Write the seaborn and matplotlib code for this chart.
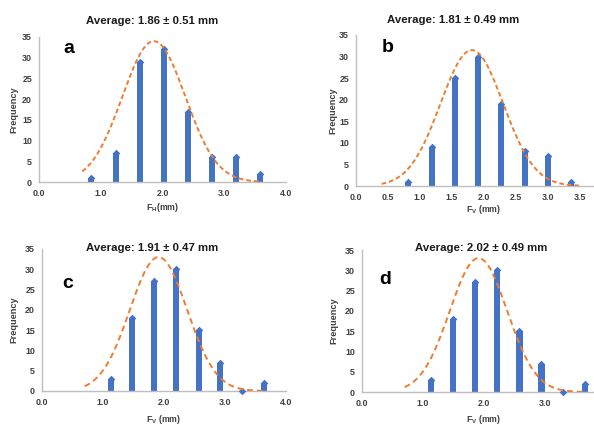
import numpy as np
import pandas as pd
import matplotlib
matplotlib.use("Agg")
import matplotlib.pyplot as plt
import seaborn as sns

sns.set_theme(style="white")
plt.rcParams['font.family'] = ['Liberation Sans', 'DejaVu Sans']
plt.rcParams['mathtext.fontset'] = 'custom'
plt.rcParams['mathtext.rm'] = 'Liberation Sans:bold'
plt.rcParams['mathtext.bf'] = 'Liberation Sans:bold'
plt.rcParams['mathtext.it'] = 'Liberation Sans:bold'

# ---------------- data ----------------
a_centers = [0.85, 1.24, 1.63, 2.02, 2.41, 2.80, 3.19, 3.58]
a_counts = [1, 7, 29, 32, 17, 6, 6, 2]
b_centers = [0.81, 1.18, 1.54, 1.90, 2.27, 2.64, 3.00, 3.36]
b_counts = [1, 9, 25, 30, 19, 8, 7, 1]
c_centers = [1.13, 1.48, 1.84, 2.20, 2.57, 2.92, 3.28, 3.64]
c_counts = [3, 18, 27, 30, 15, 7, 0, 2]
d_centers = [1.13, 1.49, 1.85, 2.21, 2.58, 2.94, 3.30, 3.66]
d_counts = [3, 18, 27, 30, 15, 7, 0, 2]

titles = ["Average: 1.86 ± 0.51 mm", "Average: 1.81 ± 0.49 mm",
          "Average: 1.91 ± 0.47 mm", "Average: 2.02 ± 0.49 mm"]
letters = ["a", "b", "c", "d"]
xlabels = [r"F$_{H}$(mm)", r"F$_{V}$ (mm)", r"F$_{V}$ (mm)", r"F$_{V}$ (mm)"]

# fitted normal curves (mean, sd, peak height, x-range) as drawn
curve_mean = [1.86, 1.81, 1.91, 1.91]
curve_sd = [0.51, 0.49, 0.47, 0.47]
curve_peak = [34.0, 31.5, 33.0, 33.0]
curve_start = [0.70, 0.40, 0.70, 0.70]
curve_end = [3.60, 3.50, 3.62, 3.62]

xtick_sets = [[0.0, 1.0, 2.0, 3.0, 4.0],
              [0.0, 0.5, 1.0, 1.5, 2.0, 2.5, 3.0, 3.5],
              [0.0, 1.0, 2.0, 3.0, 4.0],
              [0.0, 1.0, 2.0, 3.0]]
yticks = [0, 5, 10, 15, 20, 25, 30, 35]

# ---------------- layout ----------------
W, H = 594, 425
BLUE = "#4472C4"
ORANGE = "#ED7D31"
GRAY = "#BFBFBF"
TXT = "#404040"

fig = plt.figure(figsize=(W / 100, H / 100), dpi=100)
fig.patch.set_facecolor("white")

# (left, bottom, right, top) in pixels
boxes = [(39, 182, 286, 37), (356, 186, 612, 35), (42, 391, 286, 249), (362, 392, 606, 250)]
title_pos = [(0.457, 1.11), (0.379, 1.10), (0.45, 1.005), (0.49, 1.015)]
letter_pos = [(0.12, 0.92), (0.125, 0.92), (0.107, 0.76), (0.094, 0.79)]
bar_widths = [0.25, 0.26, 0.29, 0.29]
dash_styles = [(0, (2.4, 1.5)), (0, (2.4, 1.5)), (0, (3.0, 2.0)), (0, (3.0, 2.0))]
ylabel_x = [14, 333, 14, 334]
xlabel_y = [207, 210, 419, 420]

datasets = [(a_centers, a_counts), (b_centers, b_counts), (c_centers, c_counts), (d_centers, d_counts)]

for i in range(4):
    l, b, r, t = boxes[i]
    ax = fig.add_axes([l / W, 1 - b / H, (r - l) / W, (b - t) / H])
    centers, counts = datasets[i]
    df = pd.DataFrame({"x": centers, "y": counts})
    sns.barplot(data=df, x="x", y="y", native_scale=True, width=bar_widths[i],
                color=BLUE, saturation=1, ax=ax, linewidth=0, zorder=2)
    sns.scatterplot(data=df, x="x", y="y", marker="D", s=15, color=BLUE,
                    linewidth=0, ax=ax, zorder=3, clip_on=False)
    xc = np.linspace(curve_start[i], curve_end[i], 200)
    yc = curve_peak[i] * np.exp(-(xc - curve_mean[i]) ** 2 / (2 * curve_sd[i] ** 2))
    sns.lineplot(x=xc, y=yc, ax=ax, color=ORANGE, linewidth=1.4,
                 linestyle=dash_styles[i], zorder=4, sort=False)

    ax.set_xlim(0, 4.0)
    ax.set_ylim(0, 35)
    ax.set_xticks(xtick_sets[i])
    ax.set_xticklabels([f"{v:.1f}" for v in xtick_sets[i]])
    ax.set_yticks(yticks)
    ax.set_yticklabels([str(v) for v in yticks])
    for sp in ["top", "right"]:
        ax.spines[sp].set_visible(False)
    for sp in ["left", "bottom"]:
        ax.spines[sp].set_color(GRAY)
        ax.spines[sp].set_linewidth(1.0)
    ax.tick_params(axis="both", direction="out", length=3, width=0.8, color=GRAY,
                   labelsize=6.4, labelcolor=TXT, pad=2)
    for lab in ax.get_xticklabels() + ax.get_yticklabels():
        lab.set_fontweight("bold")
    ax.set_xlabel("")
    ax.set_ylabel("")
    ax.set_facecolor("none")

    ax.text(title_pos[i][0], title_pos[i][1], titles[i], transform=ax.transAxes,
            ha="center", va="center", fontsize=8.2, fontweight="bold", color="#1a1a1a")
    ax.text(letter_pos[i][0], letter_pos[i][1], letters[i], transform=ax.transAxes,
            ha="center", va="center", fontsize=14, fontweight="bold", color="black")
    fig.text(ylabel_x[i] / W, 1 - ((b + t) / 2) / H, "Frequency", rotation=90,
             ha="center", va="center", fontsize=6.6, fontweight="bold", color=TXT)
    xl_x = (l + r) / 2 if i % 2 == 0 else 484
    fig.text(xl_x / W, 1 - xlabel_y[i] / H,
             xlabels[i], ha="center", va="center", fontsize=6.3, fontweight="bold", color=TXT)

fig.savefig("out.png", dpi=100, facecolor="white")
